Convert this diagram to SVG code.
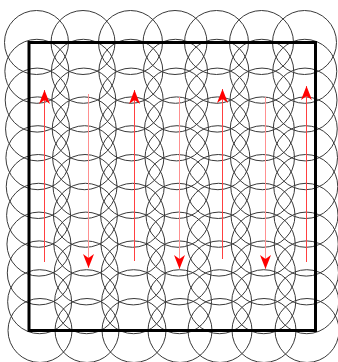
<svg xmlns="http://www.w3.org/2000/svg" width="338" height="362" viewBox="0 0 338 362">
<style>
.c{fill:none;stroke:#3a3a3a;stroke-width:1}
.sq{fill:none;stroke:#000;stroke-width:3}
.p{stroke:#ff4040;stroke-width:1;fill:none}
.q{stroke:#ff9090;stroke-width:1;fill:none}
</style>
<defs>
<marker id="ah" markerUnits="userSpaceOnUse" markerWidth="16" markerHeight="14" refX="14" refY="6" orient="auto" viewBox="0 0 16 12">
<path d="M14,6 L0,0.5 L4,6 L0,11.5 Z" fill="#ff0000"/>
</marker>
</defs>
<rect width="338" height="362" fill="#fff"/>
<g id="footprints">
<g id="col1">
<circle class="c" cx="36.5" cy="42.5" r="32"/><circle class="c" cx="36.85" cy="71.3" r="32"/><circle class="c" cx="37.2" cy="100.1" r="32"/><circle class="c" cx="37.55" cy="128.9" r="32"/><circle class="c" cx="37.9" cy="157.7" r="32"/><circle class="c" cx="38.25" cy="186.5" r="32"/><circle class="c" cx="38.6" cy="215.3" r="32"/><circle class="c" cx="38.95" cy="244.1" r="32"/><circle class="c" cx="39.3" cy="272.9" r="32"/><circle class="c" cx="39.65" cy="301.7" r="32"/><circle class="c" cx="40" cy="330.5" r="32"/>
</g>
<g id="col2">
<circle class="c" cx="83" cy="42.5" r="32"/><circle class="c" cx="83.4" cy="71.3" r="32"/><circle class="c" cx="83.8" cy="100.1" r="32"/><circle class="c" cx="84.2" cy="128.9" r="32"/><circle class="c" cx="84.6" cy="157.7" r="32"/><circle class="c" cx="85" cy="186.5" r="32"/><circle class="c" cx="85.4" cy="215.3" r="32"/><circle class="c" cx="85.8" cy="244.1" r="32"/><circle class="c" cx="86.2" cy="272.9" r="32"/><circle class="c" cx="86.6" cy="301.7" r="32"/><circle class="c" cx="87" cy="330.5" r="32"/>
</g>
<g id="col3">
<circle class="c" cx="130.5" cy="42.5" r="32"/><circle class="c" cx="130.85" cy="71.3" r="32"/><circle class="c" cx="131.2" cy="100.1" r="32"/><circle class="c" cx="131.55" cy="128.9" r="32"/><circle class="c" cx="131.9" cy="157.7" r="32"/><circle class="c" cx="132.25" cy="186.5" r="32"/><circle class="c" cx="132.6" cy="215.3" r="32"/><circle class="c" cx="132.95" cy="244.1" r="32"/><circle class="c" cx="133.3" cy="272.9" r="32"/><circle class="c" cx="133.65" cy="301.7" r="32"/><circle class="c" cx="134" cy="330.5" r="32"/>
</g>
<g id="col4">
<circle class="c" cx="175" cy="42.5" r="32"/><circle class="c" cx="175.5" cy="71.3" r="32"/><circle class="c" cx="176" cy="100.1" r="32"/><circle class="c" cx="176.5" cy="128.9" r="32"/><circle class="c" cx="177" cy="157.7" r="32"/><circle class="c" cx="177.5" cy="186.5" r="32"/><circle class="c" cx="178" cy="215.3" r="32"/><circle class="c" cx="178.5" cy="244.1" r="32"/><circle class="c" cx="179" cy="272.9" r="32"/><circle class="c" cx="179.5" cy="301.7" r="32"/><circle class="c" cx="180" cy="330.5" r="32"/>
</g>
<g id="col5">
<circle class="c" cx="216.5" cy="42.5" r="32"/><circle class="c" cx="216.85" cy="71.3" r="32"/><circle class="c" cx="217.2" cy="100.1" r="32"/><circle class="c" cx="217.55" cy="128.9" r="32"/><circle class="c" cx="217.9" cy="157.7" r="32"/><circle class="c" cx="218.25" cy="186.5" r="32"/><circle class="c" cx="218.6" cy="215.3" r="32"/><circle class="c" cx="218.95" cy="244.1" r="32"/><circle class="c" cx="219.3" cy="272.9" r="32"/><circle class="c" cx="219.65" cy="301.7" r="32"/><circle class="c" cx="220" cy="330.5" r="32"/>
</g>
<g id="col6">
<circle class="c" cx="261.5" cy="42.5" r="32"/><circle class="c" cx="261.75" cy="71.3" r="32"/><circle class="c" cx="262" cy="100.1" r="32"/><circle class="c" cx="262.25" cy="128.9" r="32"/><circle class="c" cx="262.5" cy="157.7" r="32"/><circle class="c" cx="262.75" cy="186.5" r="32"/><circle class="c" cx="263" cy="215.3" r="32"/><circle class="c" cx="263.25" cy="244.1" r="32"/><circle class="c" cx="263.5" cy="272.9" r="32"/><circle class="c" cx="263.75" cy="301.7" r="32"/><circle class="c" cx="264" cy="330.5" r="32"/>
</g>
<g id="col7">
<circle class="c" cx="304.5" cy="42.5" r="32"/><circle class="c" cx="304.75" cy="71.3" r="32"/><circle class="c" cx="305" cy="100.1" r="32"/><circle class="c" cx="305.25" cy="128.9" r="32"/><circle class="c" cx="305.5" cy="157.7" r="32"/><circle class="c" cx="305.75" cy="186.5" r="32"/><circle class="c" cx="306" cy="215.3" r="32"/><circle class="c" cx="306.25" cy="244.1" r="32"/><circle class="c" cx="306.5" cy="272.9" r="32"/><circle class="c" cx="306.75" cy="301.7" r="32"/><circle class="c" cx="307" cy="330.5" r="32"/>
</g>
</g>
<g id="area">
<rect class="sq" x="29" y="42.5" width="286.5" height="288"/>
</g>
<g id="path">
<line class="p" x1="44.5" y1="262" x2="44.5" y2="90" marker-end="url(#ah)"/>
<line class="q" x1="88.5" y1="94" x2="88.5" y2="268" marker-end="url(#ah)"/>
<line class="p" x1="134.5" y1="261" x2="134.5" y2="90" marker-end="url(#ah)"/>
<line class="q" x1="179.5" y1="97" x2="179.5" y2="269" marker-end="url(#ah)"/>
<line class="p" x1="222.5" y1="259" x2="222.5" y2="89" marker-end="url(#ah)"/>
<line class="q" x1="265.5" y1="97" x2="265.5" y2="269" marker-end="url(#ah)"/>
<line class="p" x1="306.5" y1="262" x2="306.5" y2="86" marker-end="url(#ah)"/>
</g>
</svg>
